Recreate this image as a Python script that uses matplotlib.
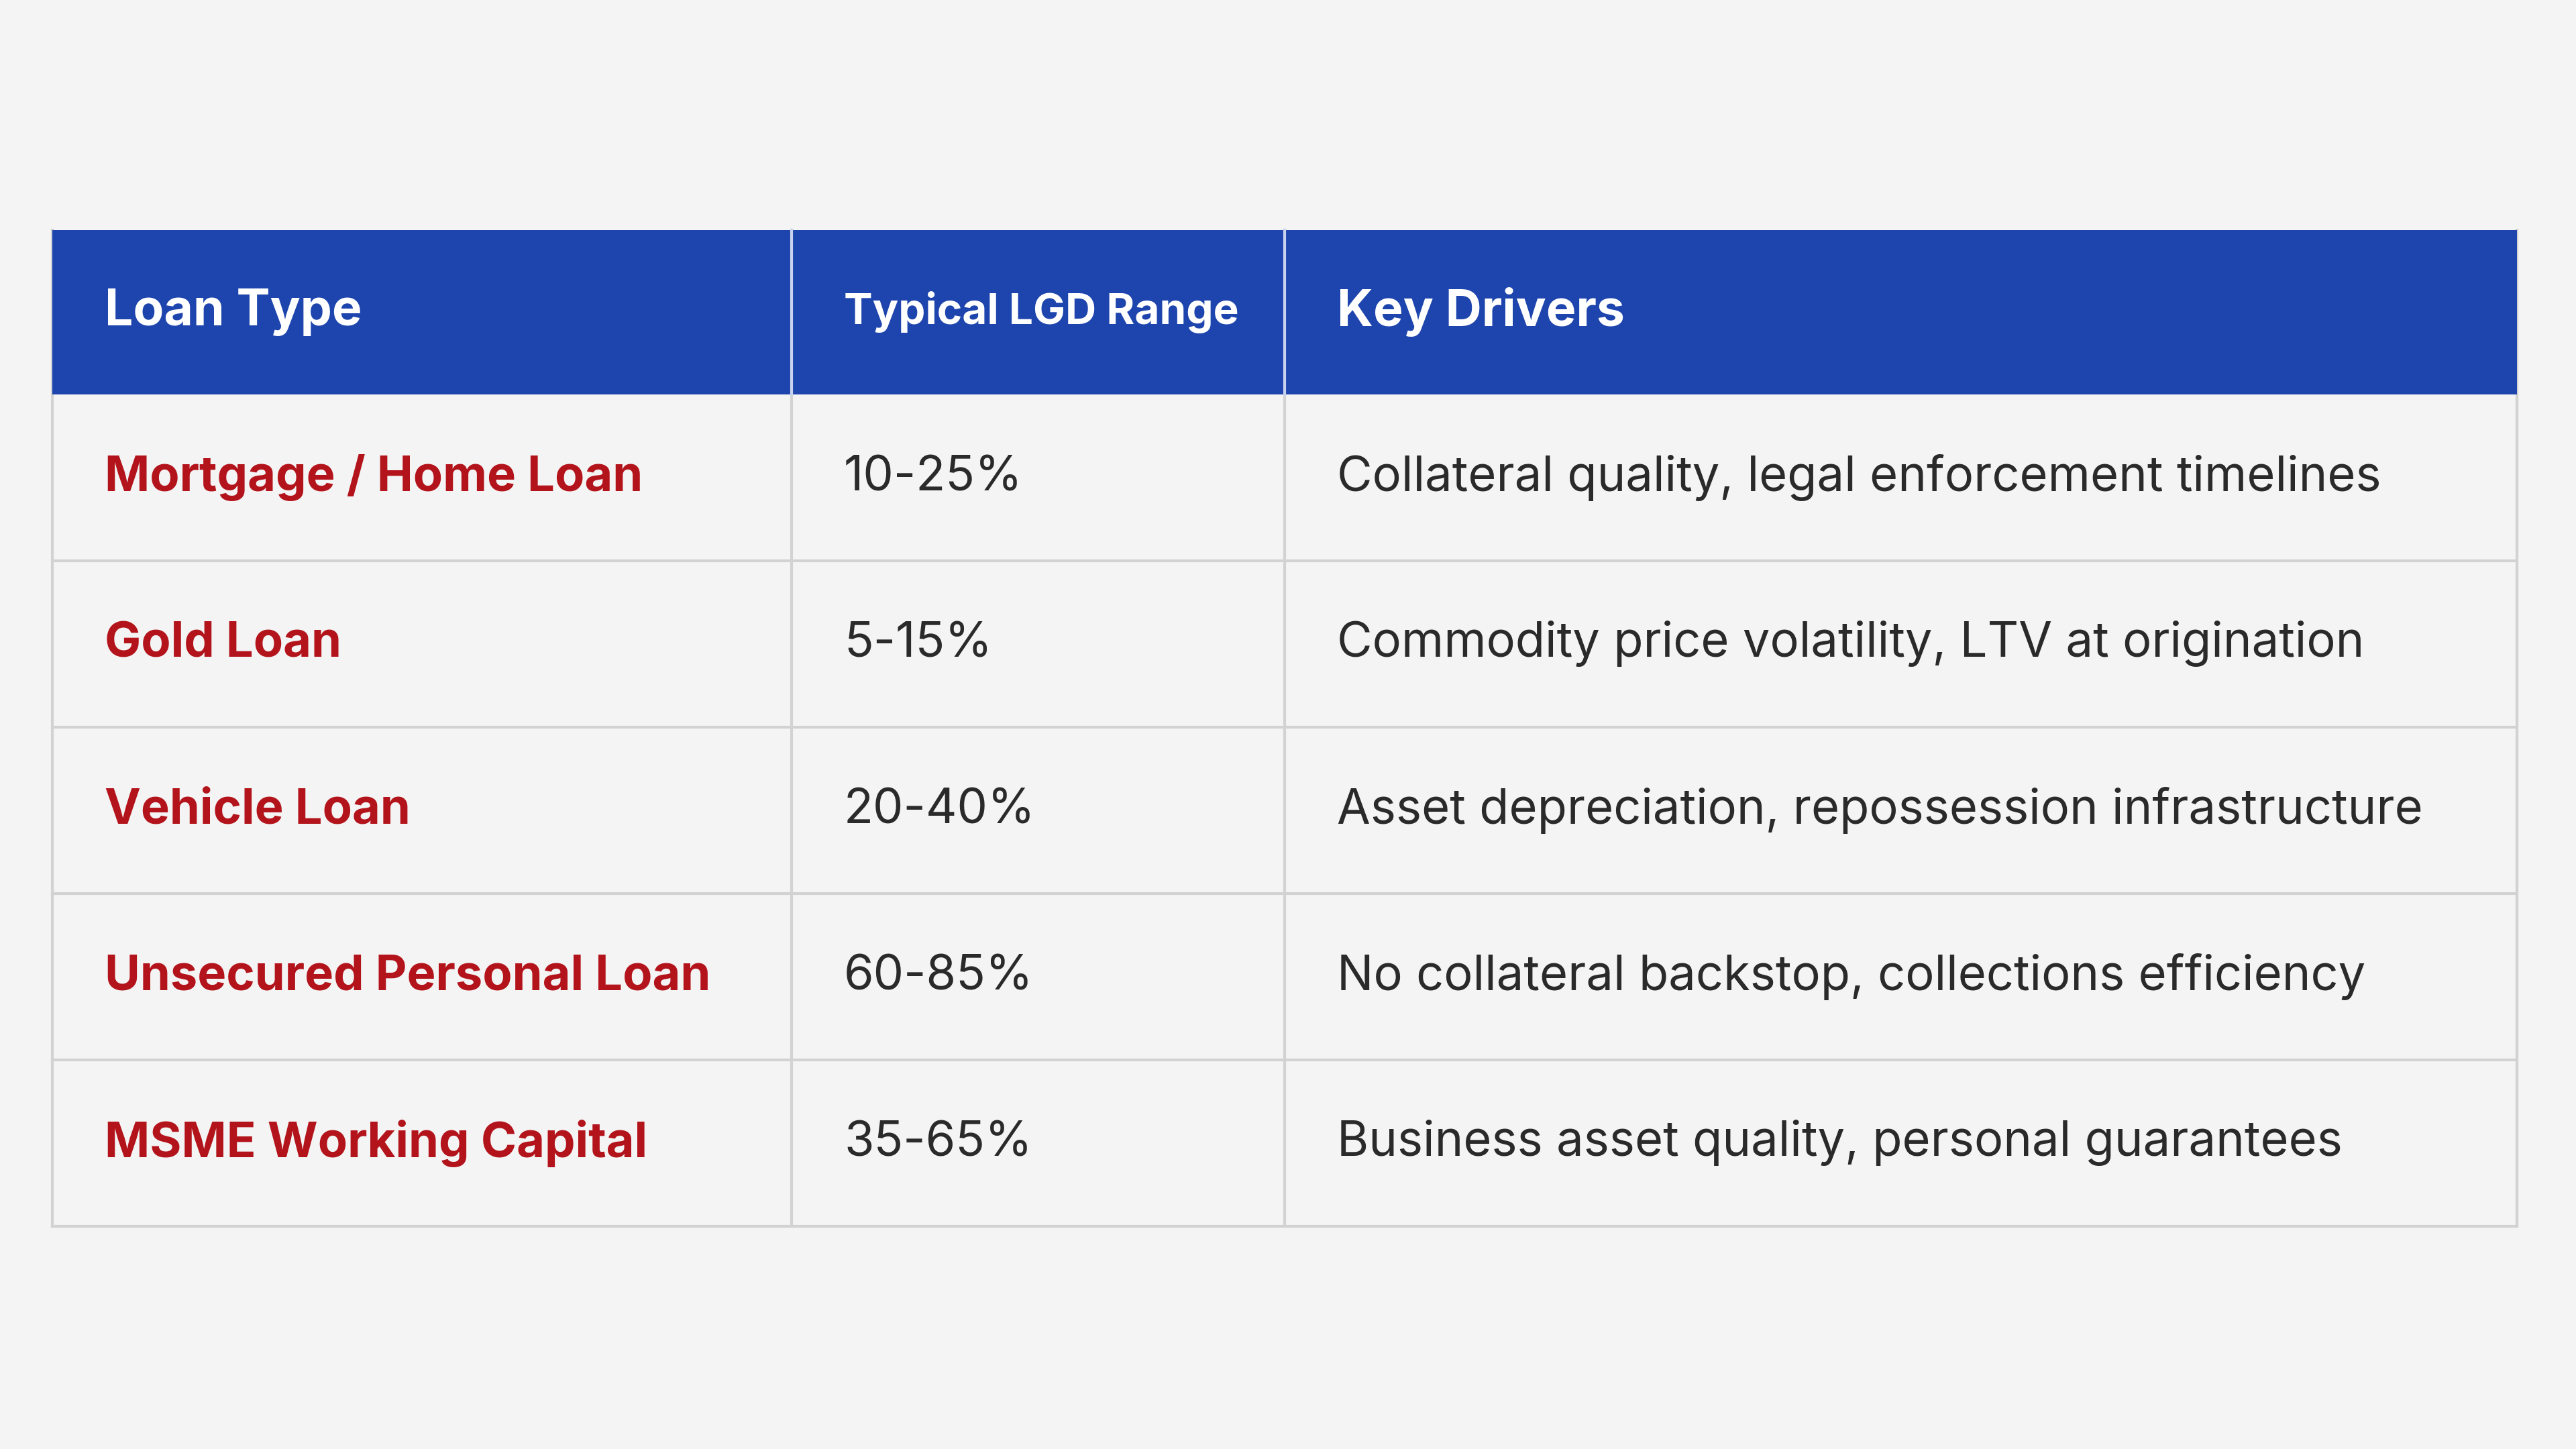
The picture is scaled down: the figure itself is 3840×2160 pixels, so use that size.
import matplotlib.pyplot as plt
from matplotlib.patches import Rectangle

headers = ["Loan Type", "Typical LGD Range", "Key Drivers"]
loan_types = ["Mortgage / Home Loan", "Gold Loan", "Vehicle Loan",
              "Unsecured Personal Loan", "MSME Working Capital"]
lgd_ranges = ["10-25%", "5-15%", "20-40%", "60-85%", "35-65%"]
drivers = ["Collateral quality, legal enforcement timelines",
           "Commodity price volatility, LTV at origination",
           "Asset depreciation, repossession infrastructure",
           "No collateral backstop, collections efficiency",
           "Business asset quality, personal guarantees"]

bg = "#F4F4F4"
header_bg = "#1E45AD"
red = "#B3141B"
text_col = "#2A2A2A"
line_col = "#D2D2D2"

W, H = 3840, 2160
col_x = [78, 1180, 1915, 3752]
top, head_h, row_h = 343, 245, 248

fig = plt.figure(figsize=(W / 100, H / 100), dpi=100)
fig.patch.set_facecolor(bg)
ax = fig.add_axes([0, 0, 1, 1])
ax.set_xlim(0, W)
ax.set_ylim(H, 0)
ax.axis("off")
plt.rcParams['font.family'] = ['Inter', 'DejaVu Sans']

ax.add_patch(Rectangle((col_x[0], top), col_x[-1] - col_x[0], head_h,
                       facecolor=header_bg, edgecolor="none"))
pad = 78
sizes = [54, 46, 54]
for i, h in enumerate(headers):
    ax.text(col_x[i] + pad, top + head_h / 2, h, color="white",
            fontsize=sizes[i], fontweight="bold", va="center", ha="left")

n = len(loan_types)
bottom = top + head_h + n * row_h
for r in range(n):
    y = top + head_h + r * row_h
    yc = y + row_h / 2
    ax.text(col_x[0] + pad, yc, loan_types[r], color=red, fontsize=52,
            fontweight="bold", va="center")
    ax.text(col_x[1] + pad, yc, lgd_ranges[r], color=text_col, fontsize=52,
            va="center")
    ax.text(col_x[2] + pad, yc, drivers[r], color=text_col, fontsize=52,
            va="center")
    ax.plot([col_x[0], col_x[-1]], [y + row_h, y + row_h], color=line_col, lw=3)

for x in col_x:
    ax.plot([x, x], [top, bottom], color=line_col, lw=3, zorder=0)
for x in col_x[1:-1]:
    ax.plot([x, x], [top, top + head_h], color="#C9D3EE", lw=3)

fig.savefig("out.png", dpi=100, facecolor=bg)
